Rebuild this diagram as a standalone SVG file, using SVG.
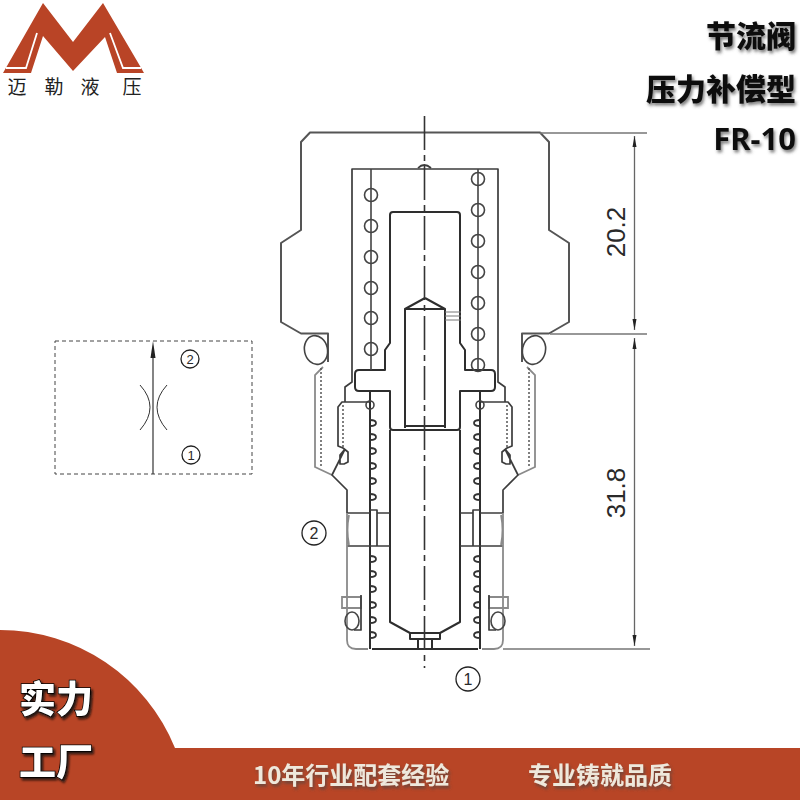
<svg xmlns="http://www.w3.org/2000/svg" xmlns:xlink="http://www.w3.org/1999/xlink" width="800" height="800" viewBox="0 0 800 800">
<defs>
<filter id="sh" x="-20%" y="-20%" width="140%" height="150%"><feDropShadow dx="2" dy="2.500" stdDeviation="1.300" flood-color="#111" flood-opacity=".85"/></filter>
<filter id="sg" x="-20%" y="-20%" width="140%" height="150%"><feDropShadow dx="1.500" dy="2.500" stdDeviation="1.500" flood-color="#444" flood-opacity=".7"/></filter>
<g id="half">
<path class="o" d="M425 132.500H310L301 142V230L281 243V322L301 333.500H328V362"/>
<ellipse class="r" cx="316" cy="350" rx="11.500" ry="14.500" transform="rotate(-12 316 350)"/>
<path class="g" d="M323 367L315 375V467L332 475"/>
<path class="d" d="M321 368V467"/>
<path class="l" d="M425 169H352V382L345 387V402"/>
<path class="t" d="M425 212H393Q390 212 390 215V343L385 350V370H359Q355 370 355 374V387Q355 391 359 391H390V427Q390 430 393 430H425"/>
<path class="t" d="M425 298L405 309V428M405 309H425M405 426H425"/>
<path class="l" d="M369 402H342L338 407V446L343 448L348 452V462L344 464H340V455L345 449M345 449L332 475L347 490V513"/>
<path class="d" d="M343 405V447"/>
<path class="t" d="M370 391V649M390 430V622L410 633H425M410 633V639H425M418 639V648"/>
<path class="b2" d="M370 420Q376 420 376 423Q376 426 370 426M370 434Q376 434 376 437Q376 440 370 440M370 448Q376 448 376 451Q376 454 370 454M370 463Q376 463 376 466Q376 469 370 469M370 478Q376 478 376 481Q376 484 370 484M370 494Q376 494 376 497Q376 500 370 500M370 556Q376 556 376 559Q376 562 370 562M370 571Q376 571 376 574Q376 577 370 577M370 586Q376 586 376 589Q376 592 370 592M370 602Q376 602 376 605Q376 608 370 608M370 617Q376 617 376 620Q376 623 370 623M370 632Q376 632 376 635Q376 638 370 638"/>
<circle class="r" cx="370" cy="405" r="4"/>
<path class="l" d="M347 513H370M347 546H370M370 510H377V546H370M377 513H390M377 546H390"/>
<path class="g" d="M347 513V640Q347 649 356 649H368M349 515Q346 530 349 545"/>
<path class="g" d="M342 597H361V608H342Z"/>
<ellipse class="r" cx="352" cy="621" rx="7" ry="9"/>
<path class="l" d="M361 595V630H354"/>
<path class="t" d="M372 649H425"/>
</g>
</defs>
<style>
.l{fill:none;stroke:#3c3c3c;stroke-width:1.700;stroke-linejoin:round}
.o{fill:none;stroke:#555;stroke-width:2;stroke-linejoin:round}
.t{fill:none;stroke:#2e2e2e;stroke-width:2;stroke-linejoin:round}
.g{fill:none;stroke:#8a8a8a;stroke-width:1.800}
.d{fill:none;stroke:#555;stroke-width:1.500;stroke-dasharray:2 2}
.r{fill:none;stroke:#444;stroke-width:1.600}
.b2{fill:none;stroke:#333;stroke-width:1.800}
.cn{fill:none;stroke:#222;stroke-width:1.300}
.n{font-family:"Liberation Sans",Arial,sans-serif;fill:#2a2a2a;text-anchor:middle}
.h{font-family:"Noto Sans CJK SC","Noto Sans",sans-serif;font-weight:900;fill:#111;text-anchor:end;font-size:30px;filter:url(#sg)}
.w{font-family:"Noto Sans CJK SC",sans-serif;font-weight:900;fill:#fff;stroke:#000;stroke-width:1.500;paint-order:stroke;font-size:37px;filter:url(#sh)}
.b{font-family:"Noto Sans CJK SC",sans-serif;font-weight:700;fill:#eee8dc;font-size:24px;filter:url(#sg)}
.lg{font-family:"Noto Sans CJK SC",serif;font-size:19px;fill:#222;text-anchor:middle}
</style>
<rect width="800" height="800" fill="#fff"/>
<g id="logo">
<path d="M43 3L73 42L103 3L140 66L144 73H117L105 37L73 71L43 36L31 73H3L7 66Z" fill="#b94426"/>
<path d="M6 68H26L37 33M141 68H123L110 33" fill="none" stroke="#fff" stroke-width="1.800"/>
<text class="lg" x="17" y="94">迈</text>
<text class="lg" x="54" y="94">勒</text>
<text class="lg" x="90" y="94">液</text>
<text class="lg" x="132" y="94">压</text>
</g>
<g id="title">
<text class="h" x="796" y="47">节流阀</text>
<text class="h" x="796" y="100">压力补偿型</text>
<text class="h" x="796" y="150" style="font-family:'Noto Sans',sans-serif;font-size:31px;font-weight:700">FR-10</text>
</g>
<g id="valve">
<use href="#half" xlink:href="#half"/>
<use href="#half" xlink:href="#half" transform="matrix(-1 0 0 1 850 0)"/>
<path class="l" d="M418 168Q424 162 431 168"/>
<path class="r" d="M371 169V370M478 169V370"/>
<circle class="r" cx="371" cy="195" r="6.500"/><circle class="r" cx="371" cy="226" r="6.500"/><circle class="r" cx="371" cy="257" r="6.500"/><circle class="r" cx="371" cy="288" r="6.500"/><circle class="r" cx="371" cy="318" r="6.500"/><circle class="r" cx="371" cy="349" r="6.500"/>
<circle class="r" cx="478" cy="179" r="6.500"/><circle class="r" cx="478" cy="210" r="6.500"/><circle class="r" cx="478" cy="241" r="6.500"/><circle class="r" cx="478" cy="272" r="6.500"/><circle class="r" cx="478" cy="303" r="6.500"/><circle class="r" cx="478" cy="334" r="6.500"/><circle class="r" cx="478" cy="365" r="6.500"/>
<path fill="none" stroke="#777" stroke-width="1" d="M445 312H461M445 316H461M445 320H461"/>
<path fill="none" stroke="#333" stroke-width="1.600" stroke-dasharray="34 5 6 5" d="M424.500 116V668"/>
</g>
<g id="dims">
<path fill="none" stroke="#777" stroke-width="1.500" d="M540 133H647M550 334H647M503 649H650"/>
<path fill="none" stroke="#666" stroke-width="1.300" d="M634.500 136V330M634.500 338V646"/>
<path fill="#222" d="M634.500 136L632.500 147H636.500ZM634.500 330L632.500 319H636.500ZM634.500 338L632.500 349H636.500ZM634.500 646L632.500 635H636.500Z"/>
<text class="n" font-size="26" transform="translate(625 232) rotate(-90)">20.2</text>
<text class="n" font-size="26" transform="translate(625 493) rotate(-90)">31.8</text>
</g>
<g id="symbol">
<rect x="55" y="341" width="197" height="133" fill="none" stroke="#444" stroke-width="1" stroke-dasharray="4 3"/>
<path d="M153 474V350" stroke="#333" stroke-width="1.200" fill="none"/>
<path d="M150.500 358L153 341L155.500 358Z" fill="#222"/>
<path fill="none" stroke="#333" stroke-width="1" d="M140 385Q160 407 140 430M167 385Q147 407 167 430"/>
<circle class="cn" cx="190" cy="359" r="9"/><text class="n" x="190" y="364" font-size="13">2</text>
<circle class="cn" cx="191" cy="455" r="9"/><text class="n" x="191" y="460" font-size="13">1</text>
</g>
<g id="port2"><circle class="cn" cx="314" cy="533" r="12"/><text class="n" x="314" y="539" font-size="16">2</text></g>
<g id="port1"><circle class="cn" cx="468" cy="679" r="12"/><text class="n" x="468" y="685" font-size="16">1</text></g>
<g id="banner">
<path d="M0 748V630A189 189 0 0 1 175 748H800V800H0Z" fill="#b84526"/>
<text class="w" x="19" y="713">实力</text>
<text class="w" x="19" y="776">工厂</text>
<text class="b" x="253" y="784">10年行业配套经验</text>
<text class="b" x="528" y="784">专业铸就品质</text>
</g>
</svg>
